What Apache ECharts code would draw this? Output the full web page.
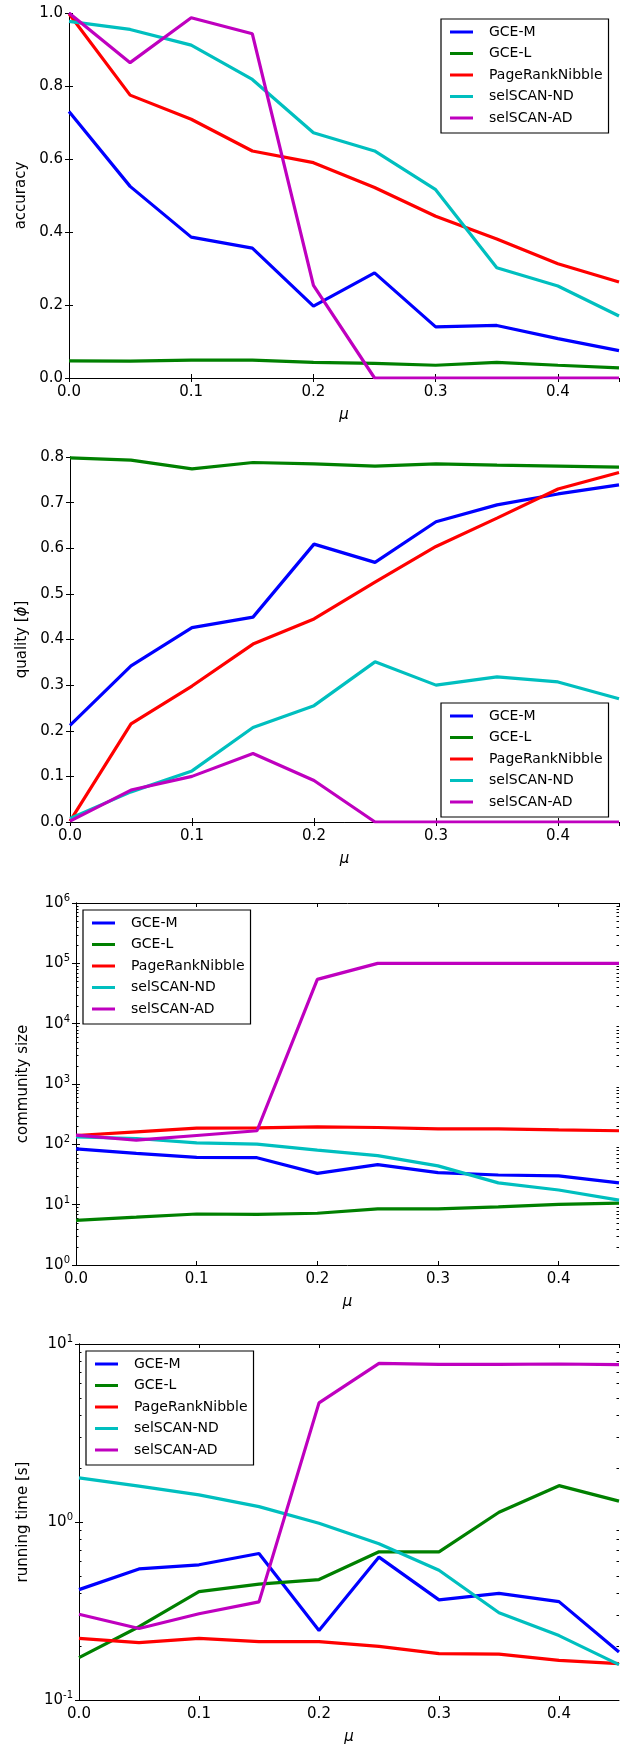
<!DOCTYPE html>
<html>
<head>
<meta charset="utf-8">
<script src="https://cdn.jsdelivr.net/npm/echarts@6/dist/echarts.min.js"></script>
<style>
  html, body { margin: 0; padding: 0; background: #fff; }
  #chart { width: 630px; height: 1746px; }
</style>
</head>
<body>
<div id="chart"></div>
<script>
// mu values shared by all four panels
const MU = [0, 0.05, 0.1, 0.15, 0.2, 0.25, 0.3, 0.35, 0.4, 0.45];
const NAMES = ['GCE-M', 'GCE-L', 'PageRankNibble', 'selSCAN-ND', 'selSCAN-AD'];
const COLORS = ['#0000ff', '#008000', '#ff0000', '#00bfbf', '#bf00bf'];

// panel 1: accuracy
const ACC_GCE_M = [0.73, 0.525, 0.386, 0.356, 0.197, 0.288, 0.14, 0.144, 0.108, 0.075];
const ACC_GCE_L = [0.047, 0.046, 0.049, 0.049, 0.043, 0.04, 0.035, 0.043, 0.035, 0.028];
const ACC_PRN = [0.998, 0.775, 0.709, 0.622, 0.59, 0.522, 0.443, 0.381, 0.313, 0.263];
const ACC_ND = [0.977, 0.955, 0.912, 0.818, 0.672, 0.622, 0.516, 0.302, 0.252, 0.17];
const ACC_AD = [1.0, 0.864, 0.987, 0.943, 0.254, 0, 0, 0, 0, 0];

// panel 2: quality [phi]
const QUAL_GCE_M = [0.212, 0.342, 0.426, 0.449, 0.609, 0.569, 0.658, 0.695, 0.719, 0.739];
const QUAL_GCE_L = [0.798, 0.793, 0.774, 0.788, 0.785, 0.78, 0.785, 0.782, 0.78, 0.778];
const QUAL_PRN = [0.002, 0.215, 0.298, 0.39, 0.445, 0.526, 0.604, 0.666, 0.73, 0.766];
const QUAL_ND = [0.008, 0.066, 0.112, 0.207, 0.255, 0.351, 0.3, 0.318, 0.307, 0.27];
const QUAL_AD = [0.002, 0.07, 0.1, 0.15, 0.091, 0, 0, 0, 0, 0];

// panel 3: community size (log)
const SIZE_GCE_M = [84, 71, 61, 60, 33, 46, 34, 31, 30, 23];
const SIZE_GCE_L = [5.5, 6.2, 7.0, 6.9, 7.2, 8.5, 8.5, 9.2, 10.1, 10.6];
const SIZE_PRN = [140, 161, 185, 188, 195, 190, 181, 181, 174, 168];
const SIZE_ND = [133, 125, 106, 101, 80, 65, 44, 23, 17.5, 11.9];
const SIZE_AD = [142, 117, 140, 168, 54300, 100000, 100000, 100000, 100000, 100000];

// panel 4: running time [s] (log)
const TIME_GCE_M = [0.417, 0.545, 0.575, 0.665, 0.246, 0.635, 0.365, 0.397, 0.357, 0.186];
const TIME_GCE_L = [0.173, 0.258, 0.406, 0.448, 0.475, 0.68, 0.68, 1.135, 1.6, 1.31];
const TIME_PRN = [0.222, 0.21, 0.222, 0.213, 0.213, 0.2, 0.182, 0.181, 0.167, 0.16];
const TIME_ND = [1.77, 1.59, 1.42, 1.22, 0.985, 0.754, 0.536, 0.309, 0.23, 0.158];
const TIME_AD = [0.303, 0.252, 0.305, 0.356, 4.67, 7.78, 7.68, 7.68, 7.72, 7.65];

const X_TICKS = [0, 0.1, 0.2, 0.3, 0.4];

const FONT = 'DejaVu Sans';
const chart = echarts.init(document.getElementById('chart'));

const panels = [
  { grid: { left: 69, top: 13, right: 11, height: 365 }, name: 'accuracy', nameGap: 38,
    y: { type: 'value', min: 0, max: 1, interval: 0.2 }, fmt: v => v.toFixed(1),
    data: [ACC_GCE_M, ACC_GCE_L, ACC_PRN, ACC_ND, ACC_AD], legend: { left: 441, top: 19 } },
  { grid: { left: 70, top: 457, right: 11, height: 365 }, name: '{n|quality [}{i|ϕ}{n|]}', nameGap: 39,
    y: { type: 'value', min: 0, max: 0.8, interval: 0.1 }, fmt: v => v.toFixed(1),
    data: [QUAL_GCE_M, QUAL_GCE_L, QUAL_PRN, QUAL_ND, QUAL_AD], legend: { left: 441, top: 703 } },
  { grid: { left: 76, top: 903, right: 11, height: 362 }, name: 'community size', nameGap: 45,
    y: { type: 'log', logBase: 10, min: 1, max: 1e6, splitNumber: 6 }, log: true,
    data: [SIZE_GCE_M, SIZE_GCE_L, SIZE_PRN, SIZE_ND, SIZE_AD], legend: { left: 83, top: 910 } },
  { grid: { left: 79, top: 1344, right: 11, height: 359 }, name: 'running time [s]', nameGap: 48,
    y: { type: 'log', logBase: 10, min: 0.1, max: 10, splitNumber: 2 }, log: true,
    data: [TIME_GCE_M, TIME_GCE_L, TIME_PRN, TIME_ND, TIME_AD], legend: { left: 86, top: 1351 } }
];

function minorTicks(lo, hi) {
  const out = [];
  for (let e = lo; e < hi; e++) {
    for (let m = 2; m <= 9; m++) out.push(m * Math.pow(10, e));
  }
  return out;
}

const line = { show: true, lineStyle: { color: '#000', width: 1 } };
const grids = [], xAxes = [], yAxes = [], series = [], legends = [];

panels.forEach((p, i) => {
  grids.push(p.grid);
  const xBase = { type: 'value', gridIndex: i, min: 0, max: 0.45, interval: 0.1,
    axisLine: line, splitLine: { show: false },
    axisTick: { inside: true, length: 4, lineStyle: { color: '#000' } } };
  xAxes.push({ ...xBase, position: 'bottom', name: 'μ', nameLocation: 'middle', nameGap: 30,
    nameTextStyle: { fontFamily: FONT, fontSize: 15, fontStyle: 'italic', color: '#000' },
    axisLabel: { margin: 7, fontFamily: FONT, fontSize: 15, color: '#000', showMaxLabel: false,
      formatter: v => X_TICKS.some(t => Math.abs(t - v) < 1e-6) ? v.toFixed(1) : '' } });
  xAxes.push({ ...xBase, position: 'top', axisLabel: { show: false } });

  const yLabel = p.log
    ? { formatter: v => '{b|10}{e|' + Math.round(Math.log10(v)) + '}',
        rich: { b: { fontFamily: FONT, fontSize: 15, color: '#000' },
                e: { fontFamily: FONT, fontSize: 10, color: '#000', padding: [0, 0, 9, 0] } } }
    : { formatter: p.fmt, fontFamily: FONT, fontSize: 15, color: '#000' };
  const yBase = { ...p.y, gridIndex: i, axisLine: line, splitLine: { show: false },
    axisTick: { inside: true, length: 4, lineStyle: { color: '#000' } } };
  yAxes.push({ ...yBase, position: 'left', name: p.name, nameLocation: 'middle', nameGap: p.nameGap,
    nameRotate: 90,
    nameTextStyle: { fontFamily: FONT, fontSize: 15, color: '#000',
      rich: { n: { fontFamily: FONT, fontSize: 15, color: '#000' },
              i: { fontFamily: FONT, fontSize: 15, color: '#000', fontStyle: 'italic' } } },
    axisLabel: { margin: 6, ...yLabel } });
  yAxes.push({ ...yBase, position: 'right', axisLabel: { show: false } });

  p.data.forEach((vals, k) => {
    series.push({
      type: 'line', name: NAMES[k], xAxisIndex: 2 * i, yAxisIndex: 2 * i,
      data: MU.map((x, j) => [x, vals[j]]),
      symbol: 'none', color: COLORS[k],
      lineStyle: { width: 3.2, color: COLORS[k] }
    });
  });

  // minor log ticks (2..9 x 10^k) on both sides, placed through the axis scale
  if (p.log) {
    const ext = p.y.min === 1 ? [0, 6] : [-1, 1];
    series.push({
      type: 'custom', xAxisIndex: 2 * i, yAxisIndex: 2 * i, silent: true,
      data: minorTicks(ext[0], ext[1]).map(v => [0, v]),
      renderItem: (params, api) => {
        const cs = params.coordSys;
        const y = Math.round(api.coord([0, api.value(1)])[1]) + 0.5;
        const st = { stroke: '#000', lineWidth: 1 };
        return { type: 'group', children: [
          { type: 'line', shape: { x1: cs.x, y1: y, x2: cs.x + 2.5, y2: y }, style: st },
          { type: 'line', shape: { x1: cs.x + cs.width, y1: y, x2: cs.x + cs.width - 2.5, y2: y }, style: st }
        ] };
      }
    });
  }

  legends.push({
    ...p.legend, orient: 'vertical', data: NAMES,
    icon: 'rect', itemWidth: 23, itemHeight: 3, itemGap: 5.5,
    padding: [5, 6, 7, 9], borderColor: '#000', borderWidth: 1.2, borderRadius: 0,
    backgroundColor: '#fff',
    textStyle: { fontFamily: FONT, fontSize: 14, color: '#000', lineHeight: 16, padding: [0, 0, 0, 11] },
    selectedMode: false
  });
});

chart.setOption({
  animation: false,
  grid: grids,
  xAxis: xAxes,
  yAxis: yAxes,
  legend: legends,
  series: series
});
</script>
</body>
</html>
